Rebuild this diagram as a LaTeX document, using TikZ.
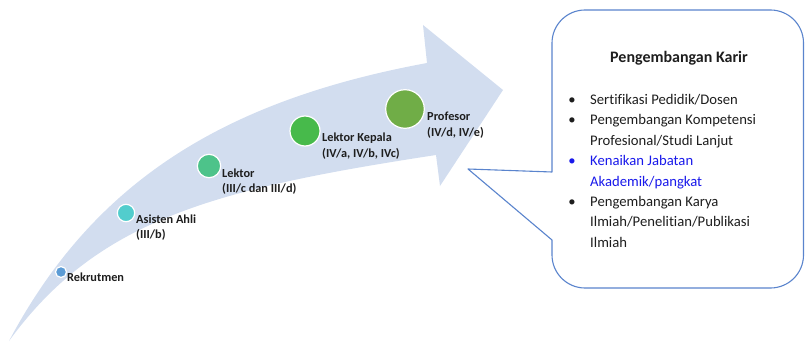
\documentclass[tikz,border=0pt]{standalone}
\usepackage{fontspec}
\setmainfont{Carlito}[Ligatures=CommonOff]
\definecolor{bandc}{RGB}{210,221,239}
\definecolor{labelc}{RGB}{30,30,30}
\definecolor{textc}{RGB}{30,30,30}
\definecolor{linkc}{RGB}{25,25,235}
\definecolor{calloutc}{RGB}{90,132,205}
\definecolor{dotA}{RGB}{91,155,213}
\definecolor{dotB}{RGB}{82,205,205}
\definecolor{dotC}{RGB}{77,195,138}
\definecolor{dotD}{RGB}{71,186,75}
\definecolor{dotE}{RGB}{112,173,71}
\begin{document}
\begin{tikzpicture}[x=1pt,y=-1pt,
  dot/.style={circle,draw=white,line width=1.2pt,inner sep=0pt},
  lbl/.style={anchor=base west,inner sep=0pt,text=labelc,
    font=\fontsize{12.3}{15.5}\selectfont\bfseries},
  callout/.style={draw=calloutc,fill=white,line width=1.1pt,line join=round}]
\useasboundingbox (0,0) rectangle (805,342);

% curved progression arrow
\fill[bandc] (9,341) .. controls (92.6,183.6) and (221,101) .. (427,63)
  -- (423,25) -- (503,90) -- (440,186) -- (436,155)
  .. controls (214.6,188.9) and (97.5,219.5) .. (9,341) -- cycle;

% career stages
\node[dot,fill=dotA,minimum size=11pt]   (d1) at (61,272) {};
\node[dot,fill=dotB,minimum size=17.4pt] (d2) at (126,213) {};
\node[dot,fill=dotC,minimum size=23.4pt] (d3) at (209,166) {};
\node[dot,fill=dotD,minimum size=30pt]   (d4) at (305,131) {};
\node[dot,fill=dotE,minimum size=38.6pt] (d5) at (405,109) {};

\node[lbl] (l1) at (67,281.5) {Rekrutmen};
\node[lbl] (l2) at (136,223) {\begin{tabular}[t]{@{}l@{}}Asisten Ahli\\(III/b)\end{tabular}};
\node[lbl] (l3) at (222,177.3) {\begin{tabular}[t]{@{}l@{}}Lektor\\(III/c dan III/d)\end{tabular}};
\node[lbl] (l4) at (322,141.5) {\begin{tabular}[t]{@{}l@{}}Lektor Kepala\\(IV/a, IV/b, IVc)\end{tabular}};
\node[lbl] (l5) at (427,120.7) {\begin{tabular}[t]{@{}l@{}}Profesor\\(IV/d, IV/e)\end{tabular}};

% callout box with pointer
\draw[callout] (552,172) -- (552,43)
  .. controls (552,24.8) and (566.8,10) .. (585,10)
  -- (770.5,10) .. controls (788.7,10) and (803.5,24.8) .. (803.5,43)
  -- (803.5,255) .. controls (803.5,273.2) and (788.7,288) .. (770.5,288)
  -- (585,288) .. controls (566.8,288) and (552,273.2) .. (552,255)
  -- (552,240) -- (468,169) -- cycle;

\node[anchor=base,inner sep=0pt,text=textc,
  font=\fontsize{16}{20}\selectfont\bfseries] (title) at (679,62.7) {Pengembangan Karir};
\node[anchor=base west,inner sep=0pt,text=textc,
  font=\fontsize{14.67}{20.4}\selectfont] (list) at (568.2,104.5)
  {\begin{tabular}[t]{@{}p{21.8pt}@{}l@{}}
   \textbullet & Sertifikasi Pedidik/Dosen\\
   \textbullet & Pengembangan Kompetensi\\
               & Profesional/Studi Lanjut\\
   \textcolor{linkc}{\textbullet} & \textcolor{linkc}{Kenaikan Jabatan}\\
               & \textcolor{linkc}{Akademik/pangkat}\\
   \textbullet & Pengembangan Karya\\
               & Ilmiah/Penelitian/Publikasi\\
               & Ilmiah
   \end{tabular}};
\end{tikzpicture}
\end{document}
